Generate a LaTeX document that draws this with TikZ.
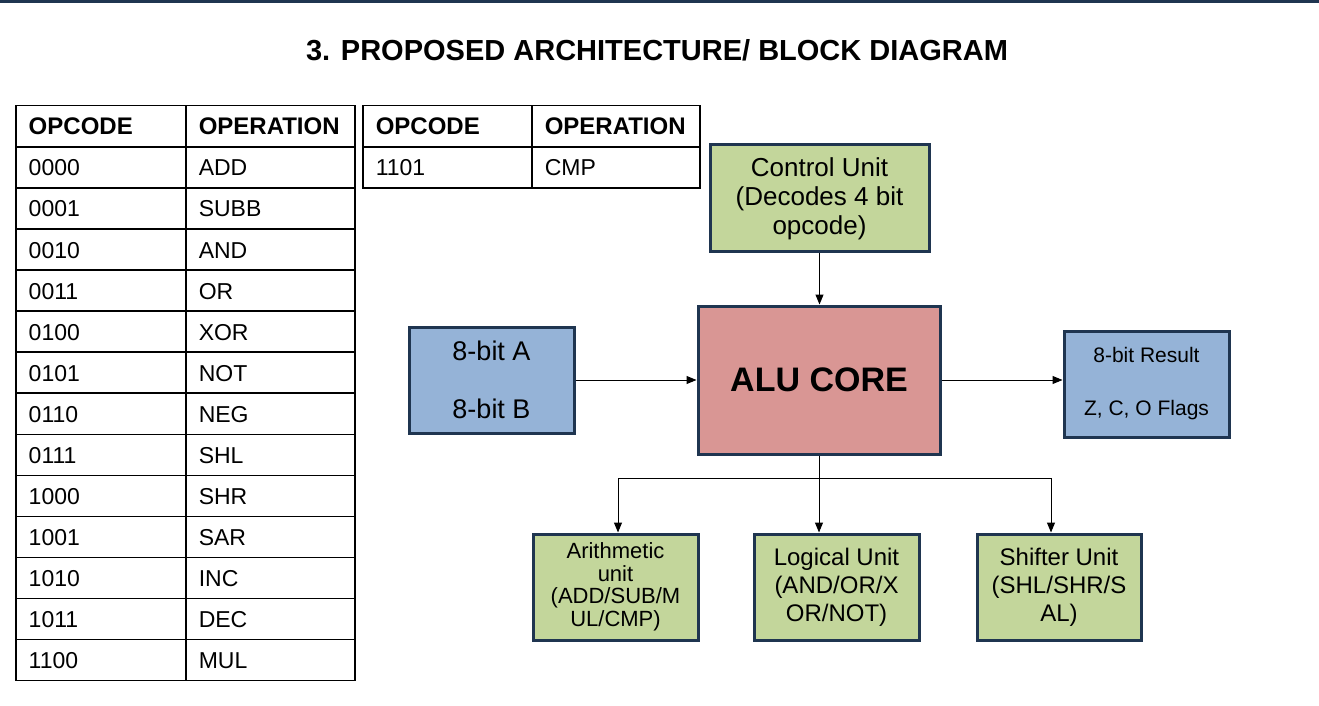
\documentclass[tikz,border=0pt]{standalone}
\usepackage{fontspec}
\setmainfont{Liberation Sans}
\usetikzlibrary{arrows.meta, positioning, calc}
\definecolor{navy}{HTML}{1F3550}
\definecolor{unitgreen}{HTML}{C3D69B}
\definecolor{corered}{HTML}{D99694}
\definecolor{iob}{HTML}{95B3D7}

\begin{document}
\begin{tikzpicture}[x=0.5pt, y=-0.5pt]
\tikzset{% one unit is one pixel of the slide
  cell/.style={draw, line width=0.75pt, minimum height=20.54pt, text height=10pt, text depth=1.5pt,
    inner xsep=6.5pt, align=left, anchor=north west, font=\fontsize{11.5}{13}\selectfont},
  head/.style={cell, font=\fontsize{12}{14}\selectfont\bfseries},
  block/.style={draw=navy, line width=1.5pt, align=center, inner sep=0pt},
  line/.style={draw, line width=0.5pt, -{Triangle[length=5pt, width=4pt]}},
}
\useasboundingbox (0,0) rectangle (1319,706);
\fill[navy] (0,0) rectangle (1319,3);

\node[font=\fontsize{14.5}{17}\selectfont\bfseries] (Title) at (657,50)
  {3. PROPOSED ARCHITECTURE/ BLOCK DIAGRAM};

% opcode tables
\node[head, text width=72pt] (CodeHead) at (15,105) {OPCODE};
\node[head, text width=71.5pt] (OpHead) at (185,105) {OPERATION};
\foreach \code/\op [count=\i] in {0000/ADD, 0001/SUBB, 0010/AND, 0011/OR,
    0100/XOR, 0101/NOT, 0110/NEG, 0111/SHL, 1000/SHR, 1001/SAR,
    1010/INC, 1011/DEC, 1100/MUL} {
  \node[cell, text width=72pt] (Code\i) at (15,{105+41.07*\i}) {\code};
  \node[cell, text width=71.5pt] (Op\i) at (185,{105+41.07*\i}) {\op};
}
\node[head, text width=71.5pt] (CodeHeadB) at (362,105) {OPCODE};
\node[head, text width=71pt] (OpHeadB) at (531,105) {OPERATION};
\node[cell, text width=71.5pt] (CodeCmp) at (362,146.07) {1101};
\node[cell, text width=71pt] (OpCmp) at (531,146.07) {CMP};

% blocks
\node[block, fill=unitgreen, minimum width=109.5pt, minimum height=53.5pt,
  font=\fontsize{13}{14.5}\selectfont] (Control) at (819.5,198.5)
  {Control Unit\\(Decodes 4 bit\\opcode)};
\node[block, fill=corered, minimum width=121pt, minimum height=74pt,
  font=\fontsize{17}{20}\selectfont\bfseries] (AluCore) at (819,380) {ALU CORE};
\node[block, fill=iob, minimum width=82.5pt, minimum height=53pt,
  font=\fontsize{13.5}{16}\selectfont] (Operands) at (491.5,380)
  {8-bit A\\[13pt]8-bit B};
\node[block, fill=iob, minimum width=82.5pt, minimum height=53pt,
  font=\fontsize{10.5}{12.5}\selectfont] (Result) at (1146.5,384)
  {8-bit Result\\[14pt]Z, C, O Flags\rule[-2pt]{0pt}{1pt}};
\node[block, fill=unitgreen, minimum width=82.5pt, minimum height=53pt,
  font=\fontsize{11}{11.3}\selectfont] (Arith) at (615.5,587)
  {Arithmetic\\unit\\(ADD/SUB/M\\UL/CMP)};
\node[block, fill=unitgreen, minimum width=82.5pt, minimum height=53pt,
  font=\fontsize{12}{14}\selectfont] (Logic) at (836.5,587)
  {Logical Unit\\(AND/OR/X\\OR/NOT)};
\node[block, fill=unitgreen, minimum width=82pt, minimum height=53pt,
  font=\fontsize{12}{14}\selectfont] (Shifter) at (1059,587)
  {Shifter Unit\\(SHL/SHR/S\\AL)};

% connectors
\coordinate (Split) at (819,478);
\draw[line] (Control.south) -- (Control.south |- AluCore.north);
\draw[line] (Operands.east) -- (AluCore.west);
\draw[line] (AluCore.east) -- (AluCore.east -| Result.west);
\draw[line] (AluCore.south) -- (AluCore.south |- Logic.north);
\draw[line] (Split) -| ([xshift=1.25pt]Arith.north);
\draw[line] (Split) -| ([xshift=-4pt]Shifter.north);
\end{tikzpicture}
\end{document}
